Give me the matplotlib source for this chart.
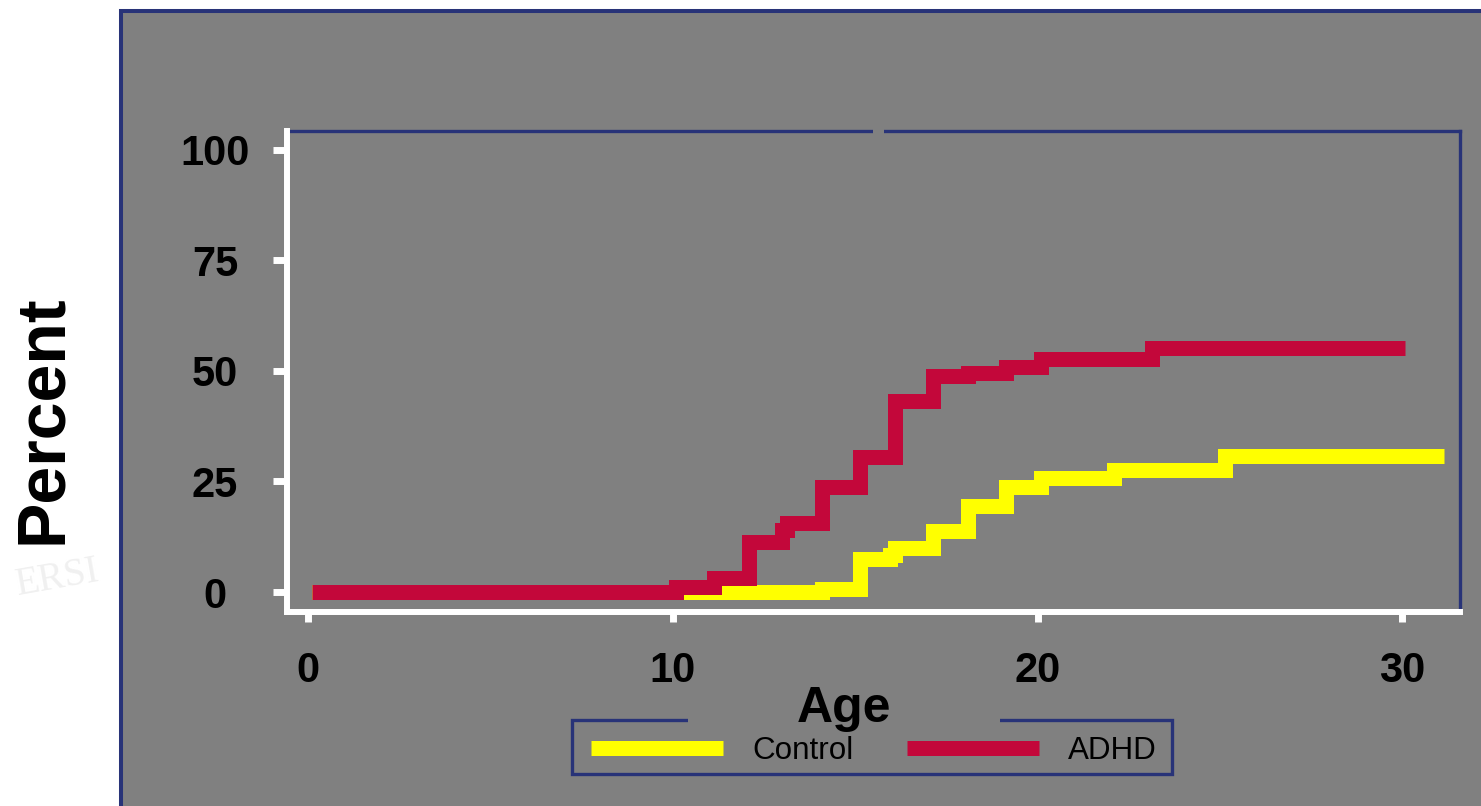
import matplotlib
matplotlib.use("Agg")
import matplotlib.pyplot as plt
from matplotlib.patches import Rectangle

plt.rcParams['font.family'] = ['Liberation Sans', 'DejaVu Sans']

# ---- data ----
series_names = ["Control", "ADHD"]
control_age = [0.1, 14.09, 15.13, 15.95, 16.09, 17.14, 18.1, 19.13, 20.08, 22.08, 25.14, 31.14]
control_pct = [0.0, 0.6, 7.5, 8.3, 9.9, 13.7, 19.4, 23.8, 25.7, 27.5, 30.7, 30.7]
adhd_age = [0.1, 10.09, 11.13, 12.08, 13.0, 13.13, 14.09, 15.13, 16.09, 17.14, 18.1, 19.13, 20.08, 23.13, 30.07]
adhd_pct = [0.0, 1.1, 3.1, 11.2, 14.0, 15.7, 23.7, 30.6, 43.2, 48.8, 49.4, 50.8, 52.6, 55.1, 55.1]
x_ticks = [0, 10, 20, 30]
y_ticks = [0, 25, 50, 75, 100]

# ---- style ----
W, H = 1481, 806
GRAY = '#808080'
NAVY = '#283378'
YELLOW = '#FFFF00'
RED = '#C3073A'

fig = plt.figure(figsize=(W / 100, H / 100), dpi=100)
fig.patch.set_facecolor('white')

def fx(px):
    return px / W

def fy(py):
    return 1 - py / H

# faint watermark on the white strip
fig.text(fx(58), fy(578), 'ERSI', fontsize=28, color='#F0F0F0', family='Liberation Serif',
         ha='center', va='center', rotation=10, zorder=-3)

# gray slide panel (top-left corner at (121, 11) px, running off the right and bottom)
fig.add_artist(Rectangle((fx(121), fy(830)), fx(1400), (830 - 11) / H,
                         transform=fig.transFigure, facecolor=GRAY, edgecolor=NAVY,
                         linewidth=2.9, zorder=-2))

ax = fig.add_axes([fx(287), fy(611.7), fx(1459.7 - 287), (611.7 - 131) / H])
ax.set_facecolor(GRAY)

ax.plot(control_age, control_pct, drawstyle='steps-post', color=YELLOW, lw=10.8,
        solid_capstyle='butt', solid_joinstyle='miter', label=series_names[0])
ax.plot(adhd_age, adhd_pct, drawstyle='steps-post', color=RED, lw=10.8,
        solid_capstyle='butt', solid_joinstyle='miter', label=series_names[1])

ax.set_xlim(-0.576, 31.57)
ax.set_ylim(-4.45, 104.2)
ax.set_xticks(x_ticks)
ax.set_yticks(y_ticks)

for s in ['left', 'bottom']:
    ax.spines[s].set_color('white')
    ax.spines[s].set_linewidth(4.3)
    ax.spines[s].set_capstyle('projecting')
    ax.spines[s].set_zorder(3)
for s in ['top', 'right']:
    ax.spines[s].set_color(NAVY)
    ax.spines[s].set_linewidth(2.4)

ax.tick_params(axis='y', direction='out', length=10.3, width=5, color='white',
               pad=41.5, labelsize=30)
ax.tick_params(axis='x', direction='out', length=7.4, width=5, color='white',
               pad=21, labelsize=30)
for lbl in ax.get_yticklabels() + ax.get_xticklabels():
    lbl.set_fontweight('bold')
for lbl in ax.get_yticklabels():
    lbl.set_horizontalalignment('center')

# small gap in the top border
fig.add_artist(Rectangle((fx(873), fy(135)), fx(11), 8 / H, transform=fig.transFigure,
                         facecolor=GRAY, edgecolor='none', zorder=5))

# y label
fig.text(fx(61), fy(419), 'Percent', rotation=90, rotation_mode='anchor', ha='center',
         va='baseline', fontsize=49, fontweight='bold', color='black')

# legend
fig.legend(loc='center', bbox_to_anchor=(fx(874), fy(751)), ncol=2, frameon=False,
           fontsize=22.6, handlelength=4.2, handletextpad=0.95, columnspacing=1.69,
           borderpad=0)
fig.add_artist(Rectangle((fx(572), fy(774)), fx(600), 54 / H, transform=fig.transFigure,
                         fill=False, edgecolor=NAVY, linewidth=2.4, zorder=6))
fig.add_artist(Rectangle((fx(688), fy(727)), fx(312), 14 / H, transform=fig.transFigure,
                         facecolor=GRAY, edgecolor='none', zorder=7))
fig.text(fx(844), fy(722), 'Age', ha='center', va='baseline', fontsize=36,
         fontweight='bold', color='black', zorder=8)

fig.savefig('out.png', dpi=100)
